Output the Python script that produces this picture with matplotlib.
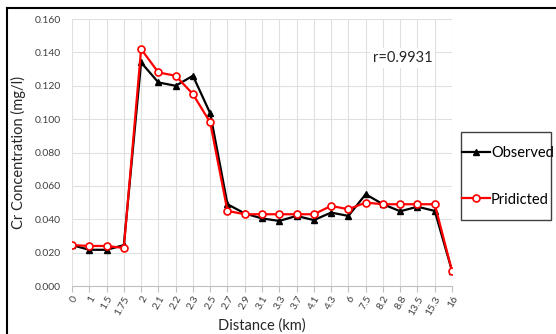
import matplotlib.pyplot as plt
from matplotlib.lines import Line2D
from matplotlib.patches import Rectangle
import numpy as np

distance = ['0', '1', '1.5', '1.75', '2', '2.1', '2.2', '2.3', '2.5', '2.7', '2.9', '3.1',
            '3.3', '3.7', '4.1', '4.3', '6', '7.5', '8.2', '8.8', '13.5', '15.3', '16']
observed = [0.0245, 0.0217, 0.0217, 0.0245, 0.134, 0.122, 0.120, 0.126, 0.1035, 0.049, 0.0435, 0.0405,
            0.039, 0.042, 0.0395, 0.044, 0.042, 0.055, 0.049, 0.0448, 0.0475, 0.045, 0.009]
predicted = [0.0245, 0.024, 0.024, 0.0228, 0.142, 0.128, 0.126, 0.115, 0.098, 0.045, 0.043, 0.043,
             0.043, 0.043, 0.043, 0.048, 0.046, 0.050, 0.049, 0.049, 0.049, 0.049, 0.009]
yticks = [0.0, 0.02, 0.04, 0.06, 0.08, 0.10, 0.12, 0.14, 0.16]

plt.rcParams['font.family'] = ['Lato', 'DejaVu Sans']

fig = plt.figure(figsize=(5.56, 3.34), dpi=100)
ax = fig.add_axes([0.1295, 0.1437, 0.6835, 0.7993])

x = np.arange(len(distance))
ax.plot(x, observed, color='black', marker='^', markersize=5, linewidth=1.6,
        label='Observed', zorder=3)
ax.plot(x, predicted, color='red', marker='o', markersize=5, markerfacecolor='white',
        markeredgecolor='red', markeredgewidth=1.2, linewidth=1.6, label='Pridicted', zorder=4)

ax.set_xlim(0, len(distance) - 1)
ax.set_ylim(0, 0.16)
ax.set_xticks(x)
ax.set_xticklabels(distance, rotation=60, ha='right', rotation_mode='anchor', fontsize=7.5, color='#404040')
ax.set_yticks(yticks)
ax.set_yticklabels([f'{v:.3f}' for v in yticks], fontsize=7.5, color='#404040')

ax.grid(True, color='#e0e0e0', linewidth=0.8)
ax.set_axisbelow(True)
for s in ['top', 'right', 'left']:
    ax.spines[s].set_visible(False)
ax.spines['bottom'].set_color('#c0c0c0')
ax.tick_params(axis='x', length=4, color='#c0c0c0', pad=2)
ax.tick_params(axis='y', length=0, pad=8)

ax.set_xlabel('Distance (km)', fontsize=10.5, color='#262626', labelpad=1)
ax.set_ylabel('Cr Concentration (mg/l)', fontsize=10.5, color='#262626', labelpad=6)

ax.text(0.87, 0.855, 'r=0.9931', transform=ax.transAxes, fontsize=10.5, ha='center', va='center',
        color='#262626', bbox=dict(facecolor='white', edgecolor='none', pad=2))

# legend box drawn separately, entries placed inside without frame
fig.add_artist(Rectangle((461 / 556, 1 - 220 / 334), 90 / 556, 88 / 334, transform=fig.transFigure,
                         facecolor='white', edgecolor='#404040', linewidth=1.0))
leg = fig.legend(loc='center left', bbox_to_anchor=(461 / 556, 1 - 176.5 / 334), fontsize=10.5,
                 frameon=False, borderpad=0.1, labelspacing=2.2, handlelength=1.9,
                 handletextpad=0.05, borderaxespad=0)

# outer chart border (top and left visible)
fig.add_artist(Line2D([7 / 556, 1], [1 - 8 / 334, 1 - 8 / 334], color='black', linewidth=1.5))
fig.add_artist(Line2D([7 / 556, 7 / 556], [0, 1 - 8 / 334], color='black', linewidth=1.5))

fig.savefig('out.png', dpi=100)
